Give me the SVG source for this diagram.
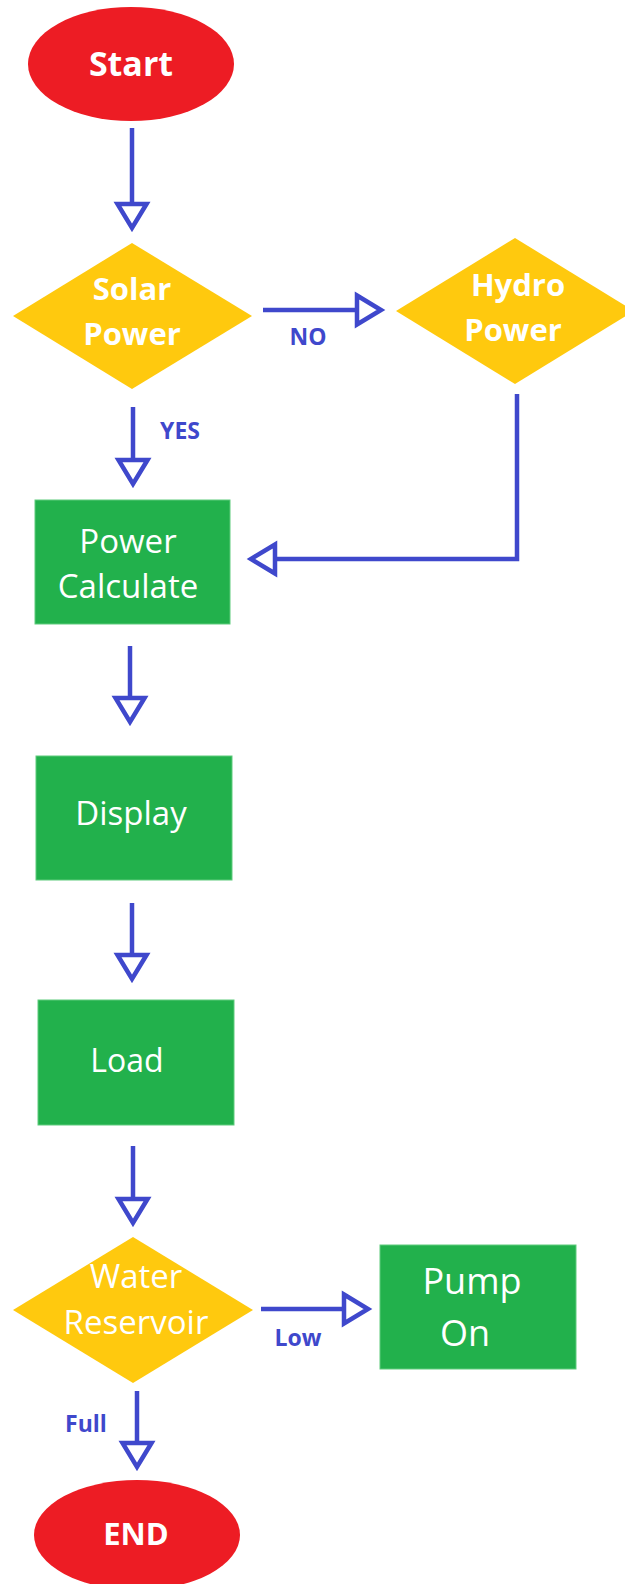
<svg xmlns="http://www.w3.org/2000/svg" width="625" height="1584" viewBox="0 0 625 1584">
  <defs>
    <style>
      .terminal { fill: #ED1C24; }
      .decision { fill: #FFC90E; }
      .process { fill: #22B14C; stroke: #5FCB7C; stroke-width: 1; }
      .node-text { font-family: "Open Sans", "Liberation Sans", sans-serif; fill: #FFFFFF; text-anchor: middle; }
      .bold { font-weight: bold; }
      .edge { fill: none; stroke: #3F48CC; stroke-width: 4.5; }
      .edge-label { font-family: "Open Sans", "Liberation Sans", sans-serif; font-weight: bold; font-size: 23px; fill: #3F48CC; text-anchor: middle; }
    </style>
    <!-- open triangular arrowhead, base at the end of the line -->
    <marker id="head" markerUnits="userSpaceOnUse" viewBox="-4 -20 36 40" markerWidth="36" markerHeight="40" refX="0" refY="0" orient="auto">
      <polygon points="0,-14.5 24,0 0,14.5" fill="#FFFFFF" stroke="#3F48CC" stroke-width="4.5" stroke-linejoin="miter"/>
    </marker>
  </defs>

  <rect width="625" height="1584" fill="#FFFFFF"/>

  <g id="connectors">
    <path class="edge" d="M132,128 V204" marker-end="url(#head)"/>
    <path class="edge" d="M263,310 H357" marker-end="url(#head)"/>
    <path class="edge" d="M133,407 V460" marker-end="url(#head)"/>
    <path class="edge" d="M517,394 V559 H275" marker-end="url(#head)"/>
    <path class="edge" d="M130,646 V698" marker-end="url(#head)"/>
    <path class="edge" d="M132,903 V955" marker-end="url(#head)"/>
    <path class="edge" d="M133,1146 V1199" marker-end="url(#head)"/>
    <path class="edge" d="M261,1309 H344" marker-end="url(#head)"/>
    <path class="edge" d="M137,1391 V1443" marker-end="url(#head)"/>
    <text class="edge-label" x="308" y="345">NO</text>
    <text class="edge-label" x="180" y="439">YES</text>
    <text class="edge-label" x="298" y="1346">Low</text>
    <text class="edge-label" x="86" y="1432">Full</text>
  </g>

  <g id="start">
    <ellipse class="terminal" cx="131" cy="64" rx="103" ry="57"/>
    <text class="node-text bold" x="131" y="76" font-size="34">Start</text>
  </g>

  <g id="solar-power">
    <polygon class="decision" points="132,243 252,316 132,389 13,316"/>
    <text class="node-text bold" x="132" y="300" font-size="31">Solar</text>
    <text class="node-text bold" x="132" y="345" font-size="31">Power</text>
  </g>

  <g id="hydro-power">
    <polygon class="decision" points="515,238 634,311 515,384 396,311"/>
    <text class="node-text bold" x="518" y="296" font-size="31">Hydro</text>
    <text class="node-text bold" x="513" y="341" font-size="31">Power</text>
  </g>

  <g id="power-calculate">
    <rect class="process" x="35" y="500" width="195" height="124"/>
    <text class="node-text" x="128" y="553" font-size="33">Power</text>
    <text class="node-text" x="128" y="598" font-size="33">Calculate</text>
  </g>

  <g id="display">
    <rect class="process" x="36" y="756" width="196" height="124"/>
    <text class="node-text" x="131" y="825" font-size="33">Display</text>
  </g>

  <g id="load">
    <rect class="process" x="38" y="1000" width="196" height="125"/>
    <text class="node-text" x="127" y="1072" font-size="32">Load</text>
  </g>

  <g id="water-reservoir">
    <polygon class="decision" points="133,1237 253,1310 133,1383 13,1310"/>
    <text class="node-text" x="136" y="1288" font-size="33">Water</text>
    <text class="node-text" x="136" y="1334" font-size="33">Reservoir</text>
  </g>

  <g id="pump-on">
    <rect class="process" x="380" y="1245" width="196" height="124"/>
    <text class="node-text" x="472" y="1294" font-size="36">Pump</text>
    <text class="node-text" x="465" y="1346" font-size="36">On</text>
  </g>

  <g id="end">
    <ellipse class="terminal" cx="137" cy="1535" rx="103" ry="55"/>
    <text class="node-text bold" x="136" y="1545" font-size="31">END</text>
  </g>
</svg>
